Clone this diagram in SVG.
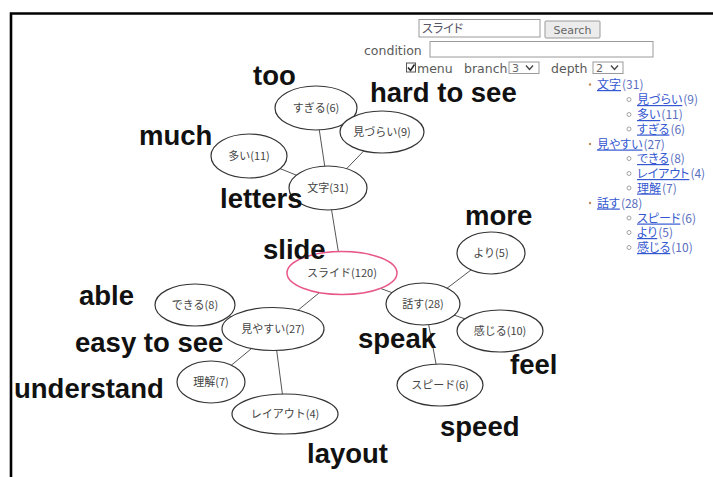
<svg xmlns="http://www.w3.org/2000/svg" width="713" height="477" viewBox="0 0 713 477">
  <style>
    .frame { fill: none; stroke: #000; stroke-width: 2.6; }
    .field { fill: #fff; stroke: #9a9a9a; stroke-width: 1; }
    .btn { fill: #ececec; stroke: #9a9a9a; stroke-width: 1; }
    .ui { font-family: "DejaVu Sans", sans-serif; font-size: 12.5px; fill: #5a5a5a; }
    .uismall { font-family: "DejaVu Sans", sans-serif; font-size: 11px; fill: #666; }
    .jp { font-family: "Noto Sans CJK JP", sans-serif; font-feature-settings: "palt"; }
    .node ellipse { fill: #fff; stroke: #333; stroke-width: 1.2; }
    .node text { font-family: "Noto Sans CJK JP", sans-serif; font-size: 11px; fill: #444; text-anchor: middle; }
    .node.root ellipse { stroke: #e8578a; stroke-width: 1.5; }
    .edges line { stroke: #555; stroke-width: 1; }
    .gloss { font-family: "Liberation Sans", Arial, sans-serif; font-weight: bold; font-size: 27.5px; fill: #111; }
    .tree text { font-family: "Noto Sans CJK JP", sans-serif; font-feature-settings: "palt"; font-size: 12px; }
    .tree .lnk { fill: #3558d0; text-decoration: underline; }
    .tree .cnt { fill: #5a6fc0; }
    .dot { fill: #c08a5a; }
    .ring { fill: none; stroke: #999; stroke-width: 0.9; }
  </style>

  <rect width="713" height="477" fill="#fff"/>

  <!-- page frame -->
  <path class="frame" d="M11,477 V13.5 H713"/>

  <!-- search form -->
  <g id="form">
    <rect class="field" x="419" y="19.5" width="121" height="17.5"/>
    <text class="jp" x="422" y="33" font-size="12" fill="#556">スライド</text>
    <rect class="btn" x="545" y="21" width="55" height="17" rx="1"/>
    <text class="uismall" x="572.5" y="33.5" text-anchor="middle">Search</text>
    <text class="ui" x="364" y="55">condition</text>
    <rect class="field" x="430" y="41.5" width="223" height="15.5"/>
    <rect x="406.5" y="63" width="9" height="9" fill="#fff" stroke="#555" stroke-width="1"/>
    <path d="M408,67.5 L410.5,70.5 L414.5,64.5" fill="none" stroke="#222" stroke-width="1.5"/>
    <text class="ui" x="417" y="73">menu</text>
    <text class="ui" x="464" y="73">branch</text>
    <rect class="field" x="509" y="62" width="30" height="11.5"/>
    <text class="uismall" x="512" y="72">3</text>
    <path d="M526,65.5 L529.5,69.5 L533,65.5" fill="none" stroke="#444" stroke-width="1.3"/>
    <text class="ui" x="551" y="73">depth</text>
    <rect class="field" x="593" y="62" width="30" height="11.5"/>
    <text class="uismall" x="596" y="72">2</text>
    <path d="M611,65.5 L614.5,69.5 L618,65.5" fill="none" stroke="#444" stroke-width="1.3"/>
  </g>

  <!-- word tree list -->
  <g id="tree" class="tree">
    <circle class="dot" cx="590" cy="84.5" r="1.2"/>
    <text x="597" y="89"><tspan class="lnk">文字</tspan><tspan class="cnt" dx="1">(31)</tspan></text>
    <circle class="ring" cx="629" cy="99.5" r="2"/>
    <text x="637" y="104"><tspan class="lnk">見づらい</tspan><tspan class="cnt" dx="1">(9)</tspan></text>
    <circle class="ring" cx="629" cy="114.5" r="2"/>
    <text x="637" y="119"><tspan class="lnk">多い</tspan><tspan class="cnt" dx="1">(11)</tspan></text>
    <circle class="ring" cx="629" cy="129" r="2"/>
    <text x="637" y="133.5"><tspan class="lnk">すぎる</tspan><tspan class="cnt" dx="1">(6)</tspan></text>
    <circle class="dot" cx="590" cy="144" r="1.2"/>
    <text x="597" y="148.5"><tspan class="lnk">見やすい</tspan><tspan class="cnt" dx="1">(27)</tspan></text>
    <circle class="ring" cx="629" cy="158.5" r="2"/>
    <text x="637" y="163"><tspan class="lnk">できる</tspan><tspan class="cnt" dx="1">(8)</tspan></text>
    <circle class="ring" cx="629" cy="173.5" r="2"/>
    <text x="637" y="178"><tspan class="lnk">レイアウト</tspan><tspan class="cnt" dx="1">(4)</tspan></text>
    <circle class="ring" cx="629" cy="188" r="2"/>
    <text x="637" y="192.5"><tspan class="lnk">理解</tspan><tspan class="cnt" dx="1">(7)</tspan></text>
    <circle class="dot" cx="590" cy="203" r="1.2"/>
    <text x="597" y="207.5"><tspan class="lnk">話す</tspan><tspan class="cnt" dx="1">(28)</tspan></text>
    <circle class="ring" cx="629" cy="218" r="2"/>
    <text x="637" y="222.5"><tspan class="lnk">スピード</tspan><tspan class="cnt" dx="1">(6)</tspan></text>
    <circle class="ring" cx="629" cy="232.5" r="2"/>
    <text x="637" y="237"><tspan class="lnk">より</tspan><tspan class="cnt" dx="1">(5)</tspan></text>
    <circle class="ring" cx="629" cy="247.5" r="2"/>
    <text x="637" y="252"><tspan class="lnk">感じる</tspan><tspan class="cnt" dx="1">(10)</tspan></text>
  </g>

  <!-- connectors, drawn centre to centre beneath the nodes -->
  <g id="edges" class="edges">
    <line x1="316" y1="108" x2="328" y2="188"/>
    <line x1="382" y1="132" x2="328" y2="188"/>
    <line x1="249" y1="156" x2="328" y2="188"/>
    <line x1="328" y1="188" x2="342" y2="274"/>
    <line x1="342" y1="274" x2="274" y2="330"/>
    <line x1="342" y1="274" x2="425" y2="305"/>
    <line x1="425" y1="305" x2="492" y2="254"/>
    <line x1="425" y1="305" x2="500" y2="331"/>
    <line x1="425" y1="305" x2="440" y2="385"/>
    <line x1="274" y1="330" x2="195" y2="305"/>
    <line x1="274" y1="330" x2="211" y2="382"/>
    <line x1="274" y1="330" x2="285" y2="414"/>
  </g>

  <!-- nodes -->
  <g id="n-sugiru" class="node"><ellipse cx="316" cy="108" rx="41" ry="22"/><text x="316" y="112">すぎる(6)</text></g>
  <g id="n-mizurai" class="node"><ellipse cx="382" cy="132" rx="42" ry="21"/><text x="382" y="136">見づらい(9)</text></g>
  <g id="n-ooi" class="node"><ellipse cx="249" cy="156" rx="38" ry="22"/><text x="249" y="160">多い(11)</text></g>
  <g id="n-moji" class="node"><ellipse cx="328" cy="188" rx="39" ry="22"/><text x="328" y="192">文字(31)</text></g>
  <g id="n-slide" class="node root"><ellipse cx="342" cy="273" rx="55" ry="21.5"/><text x="342" y="277">スライド(120)</text></g>
  <g id="n-yori" class="node"><ellipse cx="491" cy="253" rx="34" ry="21"/><text x="491" y="257">より(5)</text></g>
  <g id="n-hanasu" class="node"><ellipse cx="423" cy="304" rx="37" ry="21"/><text x="423" y="308">話す(28)</text></g>
  <g id="n-kanjiru" class="node"><ellipse cx="500" cy="331" rx="43" ry="21"/><text x="500" y="335">感じる(10)</text></g>
  <g id="n-speed" class="node"><ellipse cx="440" cy="385" rx="43" ry="21"/><text x="440" y="389">スピード(6)</text></g>
  <g id="n-dekiru" class="node"><ellipse cx="195" cy="305" rx="40" ry="21"/><text x="195" y="309">できる(8)</text></g>
  <g id="n-miyasui" class="node"><ellipse cx="273" cy="329" rx="51" ry="21.5"/><text x="273" y="333">見やすい(27)</text></g>
  <g id="n-rikai" class="node"><ellipse cx="211" cy="382" rx="34" ry="21"/><text x="211" y="386">理解(7)</text></g>
  <g id="n-layout" class="node"><ellipse cx="285" cy="414" rx="53" ry="20"/><text x="285" y="418">レイアウト(4)</text></g>

  <!-- English glosses -->
  <g id="glosses" class="gloss">
    <text x="253" y="85">too</text>
    <text x="370" y="102">hard to see</text>
    <text x="139" y="145">much</text>
    <text x="220" y="208">letters</text>
    <text x="263" y="259">slide</text>
    <text x="465" y="225">more</text>
    <text x="79" y="305">able</text>
    <text x="75" y="352">easy to see</text>
    <text x="358" y="348">speak</text>
    <text x="14" y="398">understand</text>
    <text x="510" y="374">feel</text>
    <text x="440" y="436">speed</text>
    <text x="307" y="463">layout</text>
  </g>
</svg>
